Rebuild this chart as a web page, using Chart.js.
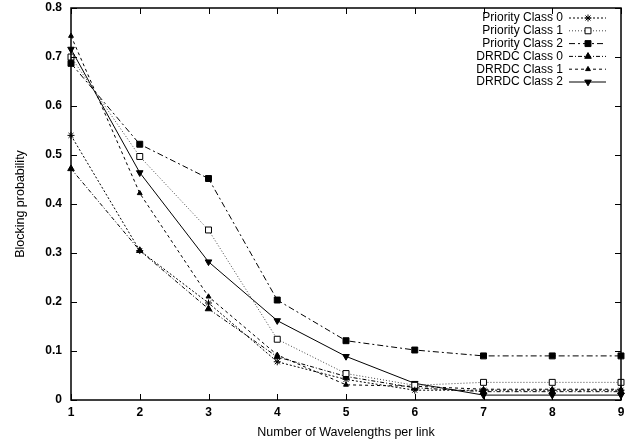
<!DOCTYPE html>
<html lang="en">
<head>
<meta charset="UTF-8" />
<title>Blocking probability vs wavelengths</title>
<script src="https://cdn.jsdelivr.net/npm/chart.js"></script>
<style>
  html, body { margin: 0; padding: 0; background: #fff; }
  #wrap { width: 640px; height: 445px; }
</style>
</head>
<body>
<div id="wrap"><canvas id="chart" width="640" height="445"></canvas></div>
<script>
  // values
  const wavelengths = ['1', '2', '3', '4', '5', '6', '7', '8', '9'];
  const priority0 = [0.540, 0.305, 0.198, 0.078, 0.042, 0.020, 0.020, 0.020, 0.020];
  const priority1 = [0.700, 0.497, 0.347, 0.124, 0.054, 0.030, 0.036, 0.036, 0.036];
  const priority2 = [0.687, 0.522, 0.452, 0.204, 0.121, 0.102, 0.090, 0.090, 0.090];
  const drrdc0 = [0.472, 0.305, 0.186, 0.088, 0.048, 0.025, 0.017, 0.017, 0.017];
  const drrdc1 = [0.743, 0.422, 0.211, 0.092, 0.031, 0.028, 0.022, 0.022, 0.022];
  const drrdc2 = [0.716, 0.464, 0.282, 0.162, 0.089, 0.034, 0.010, 0.010, 0.010];
  const yTicks = [0, 0.1, 0.2, 0.3, 0.4, 0.5, 0.6, 0.7, 0.8];

  const FONT = '"Liberation Sans", Arial, sans-serif';

  function series(label, data, dash, pointStyle, fill, radius, rotation, color) {
    return {
      label: label,
      data: data,
      borderColor: color || '#000',
      backgroundColor: fill,
      borderWidth: 1,
      borderDash: dash,
      tension: 0,
      pointStyle: pointStyle,
      pointRadius: radius,
      pointRotation: rotation || 0,
      pointBorderColor: '#000',
      pointBackgroundColor: fill,
      pointBorderWidth: 1
    };
  }

  // legend drawn inside the plot, text on the left and sample on the right
  const insideLegend = {
    id: 'insideLegend',
    afterDraw(chart) {
      const ctx = chart.ctx;
      ctx.save();
      ctx.font = '12px ' + FONT;
      ctx.textAlign = 'right';
      ctx.textBaseline = 'middle';
      chart.data.datasets.forEach((ds, i) => {
        const y = 18 + i * 12.8;
        ctx.fillStyle = '#000';
        ctx.fillText(ds.label, 563, y);
        ctx.strokeStyle = ds.borderColor;
        ctx.lineWidth = 1;
        ctx.setLineDash(ds.borderDash);
        ctx.beginPath();
        ctx.moveTo(569, y);
        ctx.lineTo(606, y);
        ctx.stroke();
        ctx.setLineDash([]);
        ctx.strokeStyle = '#000';
        ctx.fillStyle = ds.pointBackgroundColor;
        Chart.helpers.drawPoint(ctx, {
          pointStyle: ds.pointStyle,
          radius: ds.pointRadius,
          rotation: ds.pointRotation,
          borderWidth: 1
        }, 588, y);
      });
      ctx.restore();
    }
  };

  // gnuplot style frame with inward ticks on all four sides
  const frame = {
    id: 'frame',
    afterDatasetsDraw(chart) {
      const ctx = chart.ctx;
      const a = chart.chartArea;
      const xs = chart.scales.x, ys = chart.scales.y;
      ctx.save();
      ctx.strokeStyle = '#000';
      ctx.lineWidth = 1.5;
      ctx.strokeRect(a.left, a.top, a.right - a.left, a.bottom - a.top);
      ctx.lineWidth = 1;
      ctx.beginPath();
      xs.ticks.forEach((t, i) => {
        const px = Math.round(xs.getPixelForTick(i)) + 0.5;
        ctx.moveTo(px, a.bottom); ctx.lineTo(px, a.bottom - 6);
        ctx.moveTo(px, a.top); ctx.lineTo(px, a.top + 6);
      });
      ys.ticks.forEach(t => {
        const py = Math.round(ys.getPixelForValue(t.value)) + 0.5;
        ctx.moveTo(a.left, py); ctx.lineTo(a.left + 6, py);
        ctx.moveTo(a.right, py); ctx.lineTo(a.right - 6, py);
      });
      ctx.stroke();
      ctx.restore();
    }
  };

  new Chart(document.getElementById('chart'), {
    type: 'line',
    data: {
      labels: wavelengths,
      datasets: [
        series('Priority Class 0', priority0, [2, 2], 'star', '#000', 3.5),
        series('Priority Class 1', priority1, [1, 2], 'rect', '#fff', 4.2, 0, '#444'),
        series('Priority Class 2', priority2, [6, 3, 2, 3], 'rect', '#000', 4.2),
        series('DRRDC Class 0', drrdc0, [4, 2, 1, 2], 'triangle', '#000', 3.8),
        series('DRRDC Class 1', drrdc1, [3, 3], 'triangle', '#000', 2.8),
        series('DRRDC Class 2', drrdc2, [], 'triangle', '#000', 3.8, 180)
      ]
    },
    options: {
      responsive: false,
      animation: false,
      layout: { padding: { top: 8, right: 19, left: 0, bottom: 0 } },
      plugins: { legend: { display: false }, tooltip: { enabled: false } },
      scales: {
        x: {
          offset: false,
          grid: { display: false, drawTicks: false },
          border: { display: false },
          ticks: { color: '#000', font: { family: FONT, size: 12, weight: 'bold' }, padding: 5, maxRotation: 0 },
          title: { display: true, text: 'Number of Wavelengths per link', color: '#000', font: { family: FONT, size: 12.5 }, padding: { top: 2, bottom: 5 } },
          afterFit(scale) { scale.height = 45; }
        },
        y: {
          min: 0,
          max: 0.8,
          grid: { display: false, drawTicks: false },
          border: { display: false },
          afterBuildTicks(scale) { scale.ticks = yTicks.map(v => ({ value: v })); },
          ticks: { color: '#000', font: { family: FONT, size: 12, weight: 'bold' }, padding: 9 },
          title: { display: true, text: 'Blocking probability', color: '#000', font: { family: FONT, size: 12.5 }, padding: { top: 13, bottom: 0 } },
          afterFit(scale) { scale.width = 71; scale.paddingTop = 0; scale.paddingBottom = 0; }
        }
      }
    },
    plugins: [frame, insideLegend]
  });
</script>
</body>
</html>
